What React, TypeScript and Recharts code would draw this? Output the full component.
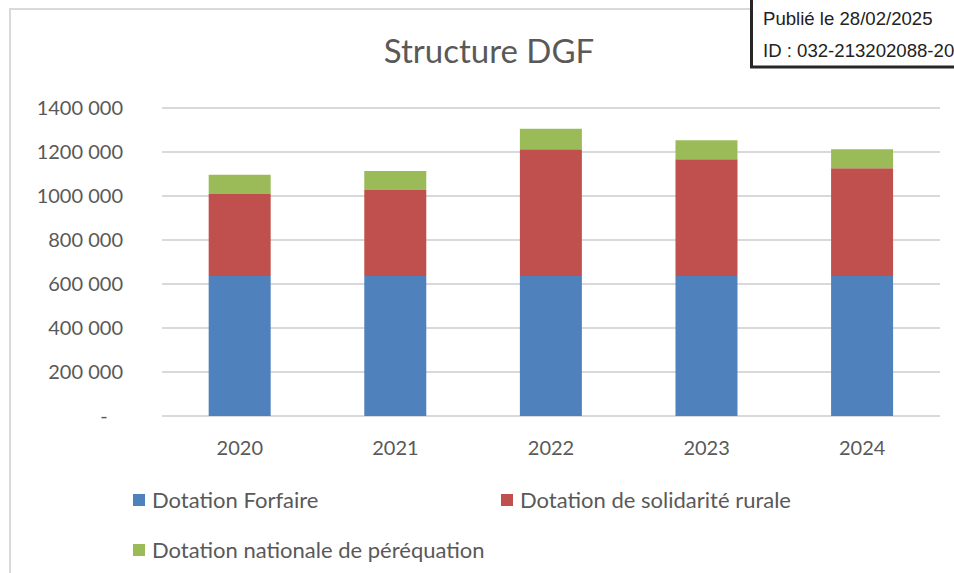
import React from 'react';
import { BarChart, Bar, XAxis, YAxis, CartesianGrid, Legend } from 'recharts';

const categories = ['2020', '2021', '2022', '2023', '2024'];
const forfaire = [636000, 636000, 636000, 636000, 636000];
const solidarite = [373000, 391000, 576000, 531000, 490000];
const perequation = [88000, 87000, 94000, 86000, 86000];

const seriesKeys = ['forfaire', 'solidarite', 'perequation'];
const seriesNames = ['Dotation Forfaire', 'Dotation de solidarité rurale', 'Dotation nationale de péréquation'];
const seriesColors = ['#4F81BD', '#C0504D', '#9BBB59'];

const yTicks = [0, 200000, 400000, 600000, 800000, 1000000, 1200000, 1400000];
const yTickLabels = ['-\u00a0\u00a0\u00a0', '200 000', '400 000', '600 000', '800 000', '1000 000', '1200 000', '1400 000'];

const titleText = 'Structure DGF';
const stampLines = ['Publié le 28/02/2025', 'ID : 032-213202088-20'];

const data = categories.map((year, i) => ({
  year,
  forfaire: forfaire[i],
  solidarite: solidarite[i],
  perequation: perequation[i],
}));

const legendPos = [
  { left: 133, top: 494 },
  { left: 501, top: 494 },
  { left: 133, top: 544 },
];

const renderLegend = (props: any) => {
  const payload = props.payload || [];
  return (
    <div style={{ position: 'relative', width: 954, height: 100 }}>
      {payload.map((entry: any, i: number) => {
        const idx = seriesKeys.indexOf(entry.dataKey);
        const pos = legendPos[idx >= 0 ? idx : i];
        return (
          <div
            key={entry.value}
            style={{ position: 'absolute', left: pos.left, top: pos.top - 470, height: 12, display: 'flex', alignItems: 'center', whiteSpace: 'nowrap' }}
          >
            <span style={{ display: 'inline-block', width: 12, height: 12, background: entry.color }} />
            <span style={{ marginLeft: 7, fontFamily: 'Lato', fontSize: 22, color: '#595959', lineHeight: '12px' }}>{entry.value}</span>
          </div>
        );
      })}
    </div>
  );
};

const tickFont = { fill: '#595959', fontSize: 20, fontFamily: 'Lato' };

export default function App() {
  return (
    <div style={{ position: 'absolute', left: 0, top: 0, width: 954, height: 573, overflow: 'hidden', background: '#ffffff' }}>
      <div style={{ position: 'absolute', left: 9, top: 8, width: 1000, height: 1000, border: '2px solid #d9d9d9' }} />
      <div style={{ position: 'absolute', left: 0, top: 0 }}>
        <BarChart
          width={954}
          height={573}
          data={data}
          margin={{ top: 108, right: 14, left: 0, bottom: 17 }}
          barCategoryGap="30%"
        >
          <CartesianGrid vertical={false} stroke="#d9d9d9" strokeWidth={2} />
          <XAxis
            dataKey="year"
            axisLine={false}
            tickLine={false}
            tickSize={0}
            tickMargin={25}
            height={40}
            tick={tickFont}
          />
          <YAxis
            domain={[0, 1400000]}
            ticks={yTicks}
            interval={0}
            axisLine={false}
            tickLine={false}
            tickSize={0}
            tickMargin={39}
            width={162}
            tick={tickFont}
            tickFormatter={(v: number) => {
              const i = yTicks.indexOf(v);
              return i >= 0 ? yTickLabels[i] : String(v);
            }}
          />
          {seriesKeys.map((k, i) => (
            <Bar key={k} dataKey={k} name={seriesNames[i]} stackId="a" fill={seriesColors[i]} isAnimationActive={false} />
          ))}
          <Legend
            verticalAlign="bottom"
            wrapperStyle={{ left: 0, top: 470, width: 954, height: 100 }}
            content={renderLegend}
          />
        </BarChart>
      </div>
      <svg width={954} height={573} style={{ position: 'absolute', left: 0, top: 0, pointerEvents: 'none' }}>
        <text x={489} y={63} textAnchor="middle" fontFamily="Lato" fontSize={33} fill="#595959">{titleText}</text>
        <rect x={751.5} y={-10} width={300} height={77} fill="#ffffff" stroke="#262626" strokeWidth={3} />
        {stampLines.map((t, i) => (
          <text key={t} x={763} y={25 + i * 31.7} fontFamily="Liberation Sans, Arial, sans-serif" fontSize={18.6} fill="#222222">{t}</text>
        ))}
      </svg>
    </div>
  );
}
